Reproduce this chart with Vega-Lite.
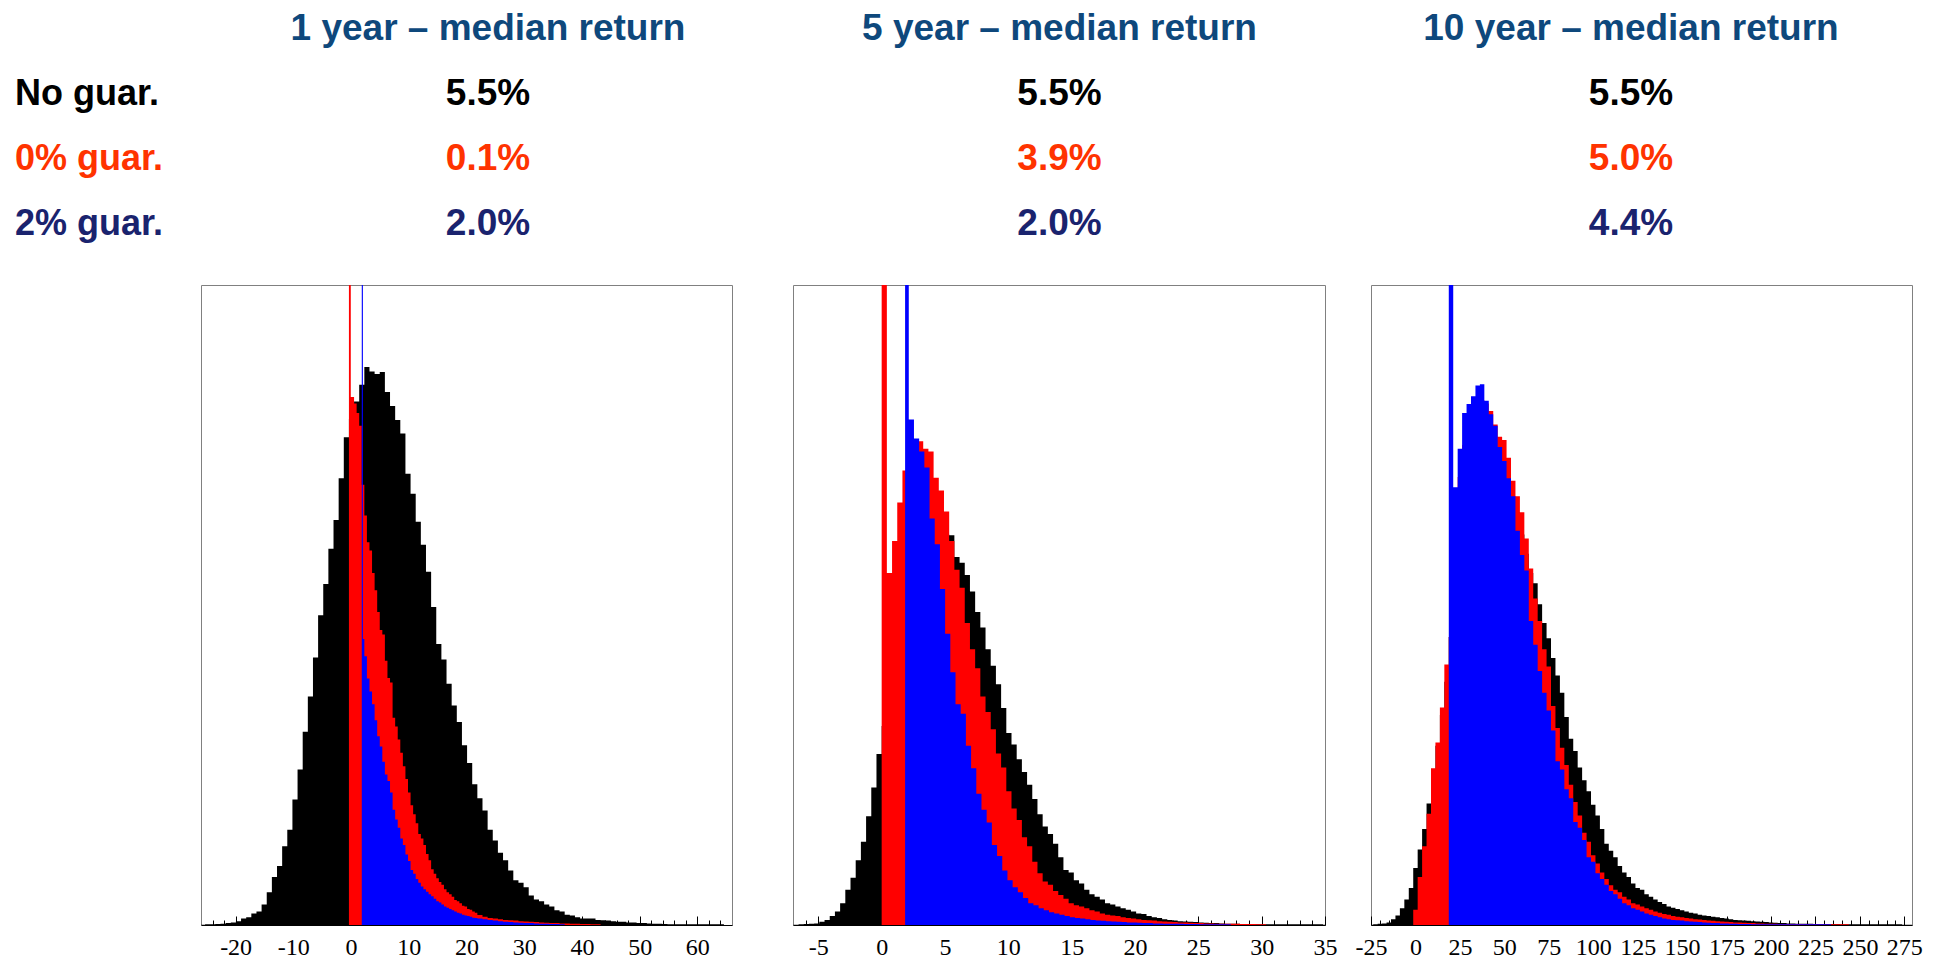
{
"$schema":"https://vega.github.io/schema/vega-lite/v6.json",
"padding":0,
"background":"white",
"spacing":24,
"config":{"view":{"stroke":"#808080","strokeWidth":1},"axis":{"grid":false,"domainColor":"#000000","tickColor":"#000000","labelFont":"Liberation Serif","labelFontSize":24,"labelColor":"#000000","labelFlush":false,"labelOverlap":false,"labelBound":false}},
"datasets":{
"t":[
{"r":"h","c":"1 year","t":"1 year – median return"},
{"r":"h","c":"5 year","t":"5 year – median return"},
{"r":"h","c":"10 year","t":"10 year – median return"},
{"r":"No guar.","c":"label","t":"No guar."},
{"r":"0% guar.","c":"label","t":"0% guar."},
{"r":"2% guar.","c":"label","t":"2% guar."},
{"r":"No guar.","c":"1 year","t":"5.5%"},
{"r":"No guar.","c":"5 year","t":"5.5%"},
{"r":"No guar.","c":"10 year","t":"5.5%"},
{"r":"0% guar.","c":"1 year","t":"0.1%"},
{"r":"0% guar.","c":"5 year","t":"3.9%"},
{"r":"0% guar.","c":"10 year","t":"5.0%"},
{"r":"2% guar.","c":"1 year","t":"2.0%"},
{"r":"2% guar.","c":"5 year","t":"2.0%"},
{"r":"2% guar.","c":"10 year","t":"4.4%"}
],
"h":[
{"p":1,"s":"b","x":-26.18,"v":0.05},{"p":1,"s":"b","x":-25.29,"v":0.1},{"p":1,"s":"b","x":-24.4,"v":0.1},{"p":1,"s":"b","x":-23.51,"v":0.15},{"p":1,"s":"b","x":-22.62,"v":0.2},{"p":1,"s":"b","x":-21.73,"v":0.3},{"p":1,"s":"b","x":-20.84,"v":0.4},{"p":1,"s":"b","x":-19.95,"v":0.6},{"p":1,"s":"b","x":-19.06,"v":1.0},{"p":1,"s":"b","x":-18.17,"v":1.2},{"p":1,"s":"b","x":-17.28,"v":1.8},{"p":1,"s":"b","x":-16.39,"v":2.1},{"p":1,"s":"b","x":-15.5,"v":3.2},{"p":1,"s":"b","x":-14.61,"v":5.1},{"p":1,"s":"b","x":-13.72,"v":7.5},{"p":1,"s":"b","x":-12.83,"v":9.2},{"p":1,"s":"b","x":-11.94,"v":12.3},{"p":1,"s":"b","x":-11.05,"v":14.9},{"p":1,"s":"b","x":-10.16,"v":19.6},{"p":1,"s":"b","x":-9.27,"v":24.3},{"p":1,"s":"b","x":-8.38,"v":30.2},{"p":1,"s":"b","x":-7.49,"v":35.7},{"p":1,"s":"b","x":-6.6,"v":41.8},{"p":1,"s":"b","x":-5.71,"v":48.4},{"p":1,"s":"b","x":-4.82,"v":53.3},{"p":1,"s":"b","x":-3.93,"v":58.8},{"p":1,"s":"b","x":-3.04,"v":63.3},{"p":1,"s":"b","x":-2.15,"v":69.8},{"p":1,"s":"b","x":-1.26,"v":76.2},{"p":1,"s":"b","x":-0.37,"v":79.1},{"p":1,"s":"b","x":0.52,"v":81.8},{"p":1,"s":"b","x":1.41,"v":84.4},{"p":1,"s":"b","x":2.3,"v":87.2},{"p":1,"s":"b","x":3.19,"v":86.5},{"p":1,"s":"b","x":4.08,"v":86.1},{"p":1,"s":"b","x":4.97,"v":86.4},{"p":1,"s":"b","x":5.86,"v":83.3},{"p":1,"s":"b","x":6.75,"v":81.1},{"p":1,"s":"b","x":7.64,"v":78.9},{"p":1,"s":"b","x":8.53,"v":76.8},{"p":1,"s":"b","x":9.42,"v":70.5},{"p":1,"s":"b","x":10.31,"v":67.4},{"p":1,"s":"b","x":11.2,"v":63.0},{"p":1,"s":"b","x":12.09,"v":59.4},{"p":1,"s":"b","x":12.98,"v":55.2},{"p":1,"s":"b","x":13.87,"v":49.7},{"p":1,"s":"b","x":14.76,"v":43.9},{"p":1,"s":"b","x":15.65,"v":41.5},{"p":1,"s":"b","x":16.54,"v":37.7},{"p":1,"s":"b","x":17.43,"v":34.3},{"p":1,"s":"b","x":18.32,"v":31.7},{"p":1,"s":"b","x":19.21,"v":28.1},{"p":1,"s":"b","x":20.1,"v":25.3},{"p":1,"s":"b","x":20.99,"v":22.0},{"p":1,"s":"b","x":21.88,"v":19.8},{"p":1,"s":"b","x":22.77,"v":17.9},{"p":1,"s":"b","x":23.66,"v":14.9},{"p":1,"s":"b","x":24.55,"v":13.2},{"p":1,"s":"b","x":25.44,"v":11.3},{"p":1,"s":"b","x":26.33,"v":10.1},{"p":1,"s":"b","x":27.22,"v":8.5},{"p":1,"s":"b","x":28.11,"v":7.0},{"p":1,"s":"b","x":29.0,"v":6.6},{"p":1,"s":"b","x":29.89,"v":5.9},{"p":1,"s":"b","x":30.78,"v":4.6},{"p":1,"s":"b","x":31.67,"v":4.0},{"p":1,"s":"b","x":32.56,"v":3.7},{"p":1,"s":"b","x":33.45,"v":3.2},{"p":1,"s":"b","x":34.34,"v":2.9},{"p":1,"s":"b","x":35.23,"v":2.3},{"p":1,"s":"b","x":36.12,"v":2.1},{"p":1,"s":"b","x":37.01,"v":1.6},{"p":1,"s":"b","x":37.9,"v":1.5},{"p":1,"s":"b","x":38.79,"v":1.2},{"p":1,"s":"b","x":39.68,"v":1.0},{"p":1,"s":"b","x":42.35,"v":0.8},{"p":1,"s":"b","x":43.24,"v":0.75},{"p":1,"s":"b","x":44.13,"v":0.7},{"p":1,"s":"b","x":45.02,"v":0.6},{"p":1,"s":"b","x":45.91,"v":0.5},{"p":1,"s":"b","x":47.69,"v":0.4},{"p":1,"s":"b","x":49.47,"v":0.3},{"p":1,"s":"b","x":51.25,"v":0.25},{"p":1,"s":"b","x":52.14,"v":0.2},{"p":1,"s":"b","x":53.92,"v":0.15},{"p":1,"s":"b","x":54.81,"v":0.1},{"p":1,"s":"b","x":64.6,"v":0},
{"p":1,"s":"r","x":-0.37,"v":150},{"p":1,"s":"r","x":-0.05,"v":82.5},{"p":1,"s":"r","x":0.52,"v":81.5},{"p":1,"s":"r","x":0.965,"v":80.0},{"p":1,"s":"r","x":1.41,"v":78.0},{"p":1,"s":"r","x":1.855,"v":68.8},{"p":1,"s":"r","x":2.3,"v":64.0},{"p":1,"s":"r","x":2.745,"v":59.8},{"p":1,"s":"r","x":3.19,"v":58.5},{"p":1,"s":"r","x":3.635,"v":55.0},{"p":1,"s":"r","x":4.08,"v":52.3},{"p":1,"s":"r","x":4.525,"v":48.9},{"p":1,"s":"r","x":4.97,"v":46.1},{"p":1,"s":"r","x":5.415,"v":45.4},{"p":1,"s":"r","x":5.86,"v":41.3},{"p":1,"s":"r","x":6.305,"v":38.6},{"p":1,"s":"r","x":6.75,"v":37.9},{"p":1,"s":"r","x":7.195,"v":32.4},{"p":1,"s":"r","x":7.64,"v":31.0},{"p":1,"s":"r","x":8.085,"v":29.0},{"p":1,"s":"r","x":8.53,"v":26.9},{"p":1,"s":"r","x":8.975,"v":24.8},{"p":1,"s":"r","x":9.42,"v":22.8},{"p":1,"s":"r","x":9.865,"v":20.7},{"p":1,"s":"r","x":10.31,"v":18.7},{"p":1,"s":"r","x":10.755,"v":17.3},{"p":1,"s":"r","x":11.2,"v":15.9},{"p":1,"s":"r","x":11.645,"v":14.2},{"p":1,"s":"r","x":12.09,"v":13.5},{"p":1,"s":"r","x":12.535,"v":12.5},{"p":1,"s":"r","x":12.98,"v":11.1},{"p":1,"s":"r","x":13.425,"v":10.1},{"p":1,"s":"r","x":13.87,"v":8.7},{"p":1,"s":"r","x":14.315,"v":8.0},{"p":1,"s":"r","x":14.76,"v":7.3},{"p":1,"s":"r","x":15.205,"v":6.7},{"p":1,"s":"r","x":15.65,"v":6.3},{"p":1,"s":"r","x":16.095,"v":5.6},{"p":1,"s":"r","x":16.54,"v":5.1},{"p":1,"s":"r","x":16.985,"v":4.8},{"p":1,"s":"r","x":17.43,"v":4.4},{"p":1,"s":"r","x":17.875,"v":3.9},{"p":1,"s":"r","x":18.32,"v":3.7},{"p":1,"s":"r","x":18.765,"v":3.4},{"p":1,"s":"r","x":19.21,"v":3.0},{"p":1,"s":"r","x":19.655,"v":2.9},{"p":1,"s":"r","x":20.1,"v":2.5},{"p":1,"s":"r","x":20.545,"v":2.4},{"p":1,"s":"r","x":20.99,"v":2.1},{"p":1,"s":"r","x":21.435,"v":1.9},{"p":1,"s":"r","x":21.88,"v":1.55},{"p":1,"s":"r","x":22.77,"v":1.3},{"p":1,"s":"r","x":23.66,"v":1.1},{"p":1,"s":"r","x":24.55,"v":1.0},{"p":1,"s":"r","x":25.44,"v":0.9},{"p":1,"s":"r","x":26.33,"v":0.8},{"p":1,"s":"r","x":27.22,"v":0.75},{"p":1,"s":"r","x":28.11,"v":0.7},{"p":1,"s":"r","x":29.0,"v":0.6},{"p":1,"s":"r","x":29.89,"v":0.55},{"p":1,"s":"r","x":30.78,"v":0.5},{"p":1,"s":"r","x":31.67,"v":0.45},{"p":1,"s":"r","x":32.56,"v":0.4},{"p":1,"s":"r","x":33.45,"v":0.35},{"p":1,"s":"r","x":34.34,"v":0.3},{"p":1,"s":"r","x":36.12,"v":0.25},{"p":1,"s":"r","x":37.9,"v":0.2},{"p":1,"s":"r","x":39.68,"v":0.15},{"p":1,"s":"r","x":41.46,"v":0.1},{"p":1,"s":"r","x":43.24,"v":0},
{"p":1,"s":"u","x":1.855,"v":150},{"p":1,"s":"u","x":2.05,"v":44.7},{"p":1,"s":"u","x":2.3,"v":42.0},{"p":1,"s":"u","x":2.745,"v":38.5},{"p":1,"s":"u","x":3.19,"v":36.5},{"p":1,"s":"u","x":3.635,"v":34.5},{"p":1,"s":"u","x":4.08,"v":32.0},{"p":1,"s":"u","x":4.525,"v":29.5},{"p":1,"s":"u","x":4.97,"v":27.9},{"p":1,"s":"u","x":5.415,"v":25.5},{"p":1,"s":"u","x":5.86,"v":23.5},{"p":1,"s":"u","x":6.305,"v":22.5},{"p":1,"s":"u","x":6.75,"v":20.7},{"p":1,"s":"u","x":7.195,"v":18.0},{"p":1,"s":"u","x":7.64,"v":16.5},{"p":1,"s":"u","x":8.085,"v":15.2},{"p":1,"s":"u","x":8.53,"v":13.5},{"p":1,"s":"u","x":8.975,"v":12.5},{"p":1,"s":"u","x":9.42,"v":11.0},{"p":1,"s":"u","x":9.865,"v":10.0},{"p":1,"s":"u","x":10.31,"v":8.6},{"p":1,"s":"u","x":10.755,"v":8.0},{"p":1,"s":"u","x":11.2,"v":7.2},{"p":1,"s":"u","x":11.645,"v":6.6},{"p":1,"s":"u","x":12.09,"v":6.0},{"p":1,"s":"u","x":12.535,"v":5.6},{"p":1,"s":"u","x":12.98,"v":5.2},{"p":1,"s":"u","x":13.425,"v":4.8},{"p":1,"s":"u","x":13.87,"v":4.5},{"p":1,"s":"u","x":14.315,"v":4.1},{"p":1,"s":"u","x":14.76,"v":3.7},{"p":1,"s":"u","x":15.205,"v":3.5},{"p":1,"s":"u","x":15.65,"v":3.2},{"p":1,"s":"u","x":16.095,"v":2.9},{"p":1,"s":"u","x":16.54,"v":2.7},{"p":1,"s":"u","x":16.985,"v":2.5},{"p":1,"s":"u","x":17.43,"v":2.3},{"p":1,"s":"u","x":17.875,"v":2.1},{"p":1,"s":"u","x":18.32,"v":1.9},{"p":1,"s":"u","x":18.765,"v":1.8},{"p":1,"s":"u","x":19.21,"v":1.6},{"p":1,"s":"u","x":19.655,"v":1.5},{"p":1,"s":"u","x":20.1,"v":1.4},{"p":1,"s":"u","x":20.545,"v":1.3},{"p":1,"s":"u","x":20.99,"v":1.15},{"p":1,"s":"u","x":21.435,"v":1.1},{"p":1,"s":"u","x":21.88,"v":1.0},{"p":1,"s":"u","x":22.77,"v":0.9},{"p":1,"s":"u","x":23.66,"v":0.8},{"p":1,"s":"u","x":24.55,"v":0.7},{"p":1,"s":"u","x":25.44,"v":0.6},{"p":1,"s":"u","x":26.33,"v":0.5},{"p":1,"s":"u","x":27.22,"v":0.45},{"p":1,"s":"u","x":28.11,"v":0.4},{"p":1,"s":"u","x":29.0,"v":0.35},{"p":1,"s":"u","x":29.89,"v":0.3},{"p":1,"s":"u","x":31.67,"v":0.25},{"p":1,"s":"u","x":32.56,"v":0.2},{"p":1,"s":"u","x":34.34,"v":0.15},{"p":1,"s":"u","x":36.12,"v":0.1},{"p":1,"s":"u","x":37.01,"v":0},
{"p":2,"s":"b","x":-6.97,"v":0.05},{"p":2,"s":"b","x":-6.56,"v":0.1},{"p":2,"s":"b","x":-6.15,"v":0.15},{"p":2,"s":"b","x":-5.74,"v":0.2},{"p":2,"s":"b","x":-5.33,"v":0.25},{"p":2,"s":"b","x":-4.92,"v":0.5},{"p":2,"s":"b","x":-4.51,"v":0.8},{"p":2,"s":"b","x":-4.1,"v":1.4},{"p":2,"s":"b","x":-3.69,"v":2.1},{"p":2,"s":"b","x":-3.28,"v":3.4},{"p":2,"s":"b","x":-2.87,"v":5.5},{"p":2,"s":"b","x":-2.46,"v":7.4},{"p":2,"s":"b","x":-2.05,"v":10.1},{"p":2,"s":"b","x":-1.64,"v":13.0},{"p":2,"s":"b","x":-1.23,"v":17.0},{"p":2,"s":"b","x":-0.82,"v":21.5},{"p":2,"s":"b","x":-0.41,"v":26.7},{"p":2,"s":"b","x":0,"v":31.1},{"p":2,"s":"b","x":0.41,"v":35},{"p":2,"s":"b","x":0.82,"v":39},{"p":2,"s":"b","x":1.23,"v":43},{"p":2,"s":"b","x":1.64,"v":47},{"p":2,"s":"b","x":2.05,"v":50},{"p":2,"s":"b","x":2.46,"v":53},{"p":2,"s":"b","x":2.87,"v":55},{"p":2,"s":"b","x":3.28,"v":57},{"p":2,"s":"b","x":3.69,"v":59},{"p":2,"s":"b","x":4.1,"v":60},{"p":2,"s":"b","x":4.51,"v":61},{"p":2,"s":"b","x":4.92,"v":61},{"p":2,"s":"b","x":5.33,"v":60.9},{"p":2,"s":"b","x":5.74,"v":57.5},{"p":2,"s":"b","x":6.15,"v":56.6},{"p":2,"s":"b","x":6.56,"v":54.7},{"p":2,"s":"b","x":6.97,"v":52.1},{"p":2,"s":"b","x":7.38,"v":48.9},{"p":2,"s":"b","x":7.79,"v":46.5},{"p":2,"s":"b","x":8.2,"v":43.1},{"p":2,"s":"b","x":8.61,"v":40.5},{"p":2,"s":"b","x":9.02,"v":37.6},{"p":2,"s":"b","x":9.43,"v":33.9},{"p":2,"s":"b","x":9.84,"v":30.0},{"p":2,"s":"b","x":10.25,"v":28.2},{"p":2,"s":"b","x":10.66,"v":25.9},{"p":2,"s":"b","x":11.07,"v":23.9},{"p":2,"s":"b","x":11.48,"v":21.9},{"p":2,"s":"b","x":11.89,"v":19.7},{"p":2,"s":"b","x":12.3,"v":17.3},{"p":2,"s":"b","x":12.71,"v":15.4},{"p":2,"s":"b","x":13.12,"v":14.2},{"p":2,"s":"b","x":13.53,"v":12.7},{"p":2,"s":"b","x":13.94,"v":10.6},{"p":2,"s":"b","x":14.35,"v":8.6},{"p":2,"s":"b","x":14.76,"v":8.2},{"p":2,"s":"b","x":15.17,"v":7.0},{"p":2,"s":"b","x":15.58,"v":6.5},{"p":2,"s":"b","x":15.99,"v":5.5},{"p":2,"s":"b","x":16.4,"v":4.8},{"p":2,"s":"b","x":16.81,"v":4.4},{"p":2,"s":"b","x":17.22,"v":4.0},{"p":2,"s":"b","x":17.63,"v":3.4},{"p":2,"s":"b","x":18.04,"v":3.2},{"p":2,"s":"b","x":18.45,"v":2.9},{"p":2,"s":"b","x":18.86,"v":2.6},{"p":2,"s":"b","x":19.27,"v":2.4},{"p":2,"s":"b","x":19.68,"v":2.1},{"p":2,"s":"b","x":20.09,"v":1.8},{"p":2,"s":"b","x":20.5,"v":1.7},{"p":2,"s":"b","x":20.91,"v":1.4},{"p":2,"s":"b","x":21.32,"v":1.2},{"p":2,"s":"b","x":21.73,"v":1.1},{"p":2,"s":"b","x":22.14,"v":0.9},{"p":2,"s":"b","x":22.55,"v":0.8},{"p":2,"s":"b","x":22.96,"v":0.7},{"p":2,"s":"b","x":23.37,"v":0.6},{"p":2,"s":"b","x":23.78,"v":0.55},{"p":2,"s":"b","x":24.19,"v":0.5},{"p":2,"s":"b","x":24.6,"v":0.45},{"p":2,"s":"b","x":25.01,"v":0.4},{"p":2,"s":"b","x":25.42,"v":0.35},{"p":2,"s":"b","x":25.83,"v":0.3},{"p":2,"s":"b","x":26.65,"v":0.25},{"p":2,"s":"b","x":27.06,"v":0.2},{"p":2,"s":"b","x":28.29,"v":0.15},{"p":2,"s":"b","x":29.11,"v":0.1},{"p":2,"s":"b","x":34.85,"v":0.05},{"p":2,"s":"b","x":35.26,"v":0},
{"p":2,"s":"r","x":0,"v":150},{"p":2,"s":"r","x":0.41,"v":55},{"p":2,"s":"r","x":0.82,"v":60},{"p":2,"s":"r","x":1.23,"v":66},{"p":2,"s":"r","x":1.64,"v":71},{"p":2,"s":"r","x":2.05,"v":74},{"p":2,"s":"r","x":2.46,"v":75.5},{"p":2,"s":"r","x":2.87,"v":75.6},{"p":2,"s":"r","x":3.28,"v":74.4},{"p":2,"s":"r","x":3.69,"v":74.0},{"p":2,"s":"r","x":4.1,"v":69.9},{"p":2,"s":"r","x":4.51,"v":67.9},{"p":2,"s":"r","x":4.92,"v":64.6},{"p":2,"s":"r","x":5.33,"v":60.0},{"p":2,"s":"r","x":5.74,"v":55.5},{"p":2,"s":"r","x":6.15,"v":52.7},{"p":2,"s":"r","x":6.56,"v":47.2},{"p":2,"s":"r","x":6.97,"v":43.1},{"p":2,"s":"r","x":7.38,"v":40.1},{"p":2,"s":"r","x":7.79,"v":35.7},{"p":2,"s":"r","x":8.2,"v":33.3},{"p":2,"s":"r","x":8.61,"v":30.6},{"p":2,"s":"r","x":9.02,"v":26.8},{"p":2,"s":"r","x":9.43,"v":24.6},{"p":2,"s":"r","x":9.84,"v":20.9},{"p":2,"s":"r","x":10.25,"v":18.2},{"p":2,"s":"r","x":10.66,"v":16.4},{"p":2,"s":"r","x":11.07,"v":13.7},{"p":2,"s":"r","x":11.48,"v":12.3},{"p":2,"s":"r","x":11.89,"v":9.9},{"p":2,"s":"r","x":12.3,"v":8.1},{"p":2,"s":"r","x":12.71,"v":6.8},{"p":2,"s":"r","x":13.12,"v":6.3},{"p":2,"s":"r","x":13.53,"v":5.3},{"p":2,"s":"r","x":13.94,"v":4.7},{"p":2,"s":"r","x":14.35,"v":4.1},{"p":2,"s":"r","x":14.76,"v":3.4},{"p":2,"s":"r","x":15.17,"v":3.1},{"p":2,"s":"r","x":15.58,"v":2.9},{"p":2,"s":"r","x":15.99,"v":2.6},{"p":2,"s":"r","x":16.4,"v":2.3},{"p":2,"s":"r","x":16.81,"v":2.1},{"p":2,"s":"r","x":17.22,"v":1.8},{"p":2,"s":"r","x":17.63,"v":1.6},{"p":2,"s":"r","x":18.04,"v":1.5},{"p":2,"s":"r","x":18.45,"v":1.4},{"p":2,"s":"r","x":18.86,"v":1.2},{"p":2,"s":"r","x":19.27,"v":1.1},{"p":2,"s":"r","x":19.68,"v":1.0},{"p":2,"s":"r","x":20.09,"v":0.9},{"p":2,"s":"r","x":20.5,"v":0.8},{"p":2,"s":"r","x":20.91,"v":0.75},{"p":2,"s":"r","x":21.32,"v":0.7},{"p":2,"s":"r","x":21.73,"v":0.6},{"p":2,"s":"r","x":22.14,"v":0.55},{"p":2,"s":"r","x":22.55,"v":0.5},{"p":2,"s":"r","x":22.96,"v":0.45},{"p":2,"s":"r","x":23.37,"v":0.4},{"p":2,"s":"r","x":24.19,"v":0.35},{"p":2,"s":"r","x":24.6,"v":0.3},{"p":2,"s":"r","x":25.42,"v":0.25},{"p":2,"s":"r","x":26.24,"v":0.2},{"p":2,"s":"r","x":28.29,"v":0.15},{"p":2,"s":"r","x":29.52,"v":0.1},{"p":2,"s":"r","x":30.34,"v":0},
{"p":2,"s":"u","x":1.85,"v":150},{"p":2,"s":"u","x":2.14,"v":79.0},{"p":2,"s":"u","x":2.55,"v":76.0},{"p":2,"s":"u","x":2.96,"v":74.0},{"p":2,"s":"u","x":3.37,"v":71.5},{"p":2,"s":"u","x":3.78,"v":63.5},{"p":2,"s":"u","x":4.19,"v":59.5},{"p":2,"s":"u","x":4.6,"v":52.5},{"p":2,"s":"u","x":5.01,"v":45.5},{"p":2,"s":"u","x":5.42,"v":39.5},{"p":2,"s":"u","x":5.83,"v":34.5},{"p":2,"s":"u","x":6.24,"v":33.0},{"p":2,"s":"u","x":6.65,"v":28.0},{"p":2,"s":"u","x":7.06,"v":24.5},{"p":2,"s":"u","x":7.47,"v":20.5},{"p":2,"s":"u","x":7.88,"v":18.0},{"p":2,"s":"u","x":8.29,"v":16.0},{"p":2,"s":"u","x":8.7,"v":12.5},{"p":2,"s":"u","x":9.11,"v":10.8},{"p":2,"s":"u","x":9.52,"v":8.5},{"p":2,"s":"u","x":9.93,"v":7.0},{"p":2,"s":"u","x":10.34,"v":5.9},{"p":2,"s":"u","x":10.75,"v":5.1},{"p":2,"s":"u","x":11.16,"v":4.2},{"p":2,"s":"u","x":11.57,"v":3.4},{"p":2,"s":"u","x":11.98,"v":3.1},{"p":2,"s":"u","x":12.39,"v":2.6},{"p":2,"s":"u","x":12.8,"v":2.3},{"p":2,"s":"u","x":13.21,"v":2.0},{"p":2,"s":"u","x":13.62,"v":1.8},{"p":2,"s":"u","x":14.03,"v":1.6},{"p":2,"s":"u","x":14.44,"v":1.4},{"p":2,"s":"u","x":14.85,"v":1.2},{"p":2,"s":"u","x":15.26,"v":1.1},{"p":2,"s":"u","x":15.67,"v":1.0},{"p":2,"s":"u","x":16.08,"v":0.9},{"p":2,"s":"u","x":16.49,"v":0.8},{"p":2,"s":"u","x":16.9,"v":0.7},{"p":2,"s":"u","x":17.31,"v":0.65},{"p":2,"s":"u","x":17.72,"v":0.6},{"p":2,"s":"u","x":18.13,"v":0.55},{"p":2,"s":"u","x":18.54,"v":0.5},{"p":2,"s":"u","x":18.95,"v":0.45},{"p":2,"s":"u","x":19.36,"v":0.4},{"p":2,"s":"u","x":20.18,"v":0.35},{"p":2,"s":"u","x":20.59,"v":0.3},{"p":2,"s":"u","x":21.41,"v":0.25},{"p":2,"s":"u","x":22.23,"v":0.2},{"p":2,"s":"u","x":23.87,"v":0.15},{"p":2,"s":"u","x":25.1,"v":0.1},{"p":2,"s":"u","x":27.56,"v":0},
{"p":3,"s":"b","x":-26.25,"v":0.05},{"p":3,"s":"b","x":-23.75,"v":0.1},{"p":3,"s":"b","x":-21.25,"v":0.2},{"p":3,"s":"b","x":-18.75,"v":0.25},{"p":3,"s":"b","x":-16.25,"v":0.4},{"p":3,"s":"b","x":-13.75,"v":0.9},{"p":3,"s":"b","x":-11.25,"v":1.5},{"p":3,"s":"b","x":-8.75,"v":2.6},{"p":3,"s":"b","x":-6.25,"v":4.0},{"p":3,"s":"b","x":-3.75,"v":5.8},{"p":3,"s":"b","x":-1.25,"v":8.9},{"p":3,"s":"b","x":1.25,"v":11.8},{"p":3,"s":"b","x":3.75,"v":15.0},{"p":3,"s":"b","x":6.25,"v":19.0},{"p":3,"s":"b","x":8.75,"v":23.5},{"p":3,"s":"b","x":11.25,"v":28.0},{"p":3,"s":"b","x":13.75,"v":32.8},{"p":3,"s":"b","x":16.25,"v":38},{"p":3,"s":"b","x":18.75,"v":45},{"p":3,"s":"b","x":21.25,"v":58},{"p":3,"s":"b","x":23.75,"v":65},{"p":3,"s":"b","x":26.25,"v":70},{"p":3,"s":"b","x":28.75,"v":73},{"p":3,"s":"b","x":31.25,"v":75},{"p":3,"s":"b","x":33.75,"v":76},{"p":3,"s":"b","x":36.25,"v":76},{"p":3,"s":"b","x":38.75,"v":76},{"p":3,"s":"b","x":41.25,"v":75},{"p":3,"s":"b","x":43.75,"v":74},{"p":3,"s":"b","x":46.25,"v":72},{"p":3,"s":"b","x":48.75,"v":70},{"p":3,"s":"b","x":51.25,"v":68},{"p":3,"s":"b","x":53.75,"v":65},{"p":3,"s":"b","x":56.25,"v":63},{"p":3,"s":"b","x":58.75,"v":61},{"p":3,"s":"b","x":61.25,"v":58},{"p":3,"s":"b","x":63.75,"v":55},{"p":3,"s":"b","x":66.25,"v":53.4},{"p":3,"s":"b","x":68.75,"v":50.1},{"p":3,"s":"b","x":71.25,"v":47.2},{"p":3,"s":"b","x":73.75,"v":44.8},{"p":3,"s":"b","x":76.25,"v":41.7},{"p":3,"s":"b","x":78.75,"v":39.0},{"p":3,"s":"b","x":81.25,"v":36.3},{"p":3,"s":"b","x":83.75,"v":32.5},{"p":3,"s":"b","x":86.25,"v":29.1},{"p":3,"s":"b","x":88.75,"v":27.2},{"p":3,"s":"b","x":91.25,"v":24.6},{"p":3,"s":"b","x":93.75,"v":22.6},{"p":3,"s":"b","x":96.25,"v":20.9},{"p":3,"s":"b","x":98.75,"v":18.8},{"p":3,"s":"b","x":101.25,"v":17.1},{"p":3,"s":"b","x":103.75,"v":15.0},{"p":3,"s":"b","x":106.25,"v":12.7},{"p":3,"s":"b","x":108.75,"v":11.6},{"p":3,"s":"b","x":111.25,"v":10.6},{"p":3,"s":"b","x":113.75,"v":9.2},{"p":3,"s":"b","x":116.25,"v":8.2},{"p":3,"s":"b","x":118.75,"v":7.5},{"p":3,"s":"b","x":121.25,"v":6.5},{"p":3,"s":"b","x":123.75,"v":5.8},{"p":3,"s":"b","x":126.25,"v":5.5},{"p":3,"s":"b","x":128.75,"v":4.8},{"p":3,"s":"b","x":131.25,"v":4.4},{"p":3,"s":"b","x":133.75,"v":4.0},{"p":3,"s":"b","x":136.25,"v":3.6},{"p":3,"s":"b","x":138.75,"v":3.3},{"p":3,"s":"b","x":141.25,"v":2.9},{"p":3,"s":"b","x":143.75,"v":2.7},{"p":3,"s":"b","x":146.25,"v":2.5},{"p":3,"s":"b","x":148.75,"v":2.3},{"p":3,"s":"b","x":151.25,"v":2.1},{"p":3,"s":"b","x":153.75,"v":1.9},{"p":3,"s":"b","x":156.25,"v":1.8},{"p":3,"s":"b","x":158.75,"v":1.6},{"p":3,"s":"b","x":161.25,"v":1.5},{"p":3,"s":"b","x":163.75,"v":1.4},{"p":3,"s":"b","x":166.25,"v":1.3},{"p":3,"s":"b","x":168.75,"v":1.2},{"p":3,"s":"b","x":171.25,"v":1.1},{"p":3,"s":"b","x":173.75,"v":1.0},{"p":3,"s":"b","x":176.25,"v":0.9},{"p":3,"s":"b","x":178.75,"v":0.8},{"p":3,"s":"b","x":181.25,"v":0.75},{"p":3,"s":"b","x":183.75,"v":0.7},{"p":3,"s":"b","x":186.25,"v":0.65},{"p":3,"s":"b","x":188.75,"v":0.6},{"p":3,"s":"b","x":191.25,"v":0.55},{"p":3,"s":"b","x":193.75,"v":0.5},{"p":3,"s":"b","x":196.25,"v":0.45},{"p":3,"s":"b","x":198.75,"v":0.4},{"p":3,"s":"b","x":201.25,"v":0.35},{"p":3,"s":"b","x":203.75,"v":0.3},{"p":3,"s":"b","x":208.75,"v":0.25},{"p":3,"s":"b","x":213.75,"v":0.2},{"p":3,"s":"b","x":223.75,"v":0.15},{"p":3,"s":"b","x":238.75,"v":0.1},{"p":3,"s":"b","x":273.75,"v":0.05},{"p":3,"s":"b","x":281.25,"v":0},
{"p":3,"s":"r","x":-1.25,"v":2.4},{"p":3,"s":"r","x":1.25,"v":7.5},{"p":3,"s":"r","x":3.75,"v":12.3},{"p":3,"s":"r","x":6.25,"v":17.4},{"p":3,"s":"r","x":8.75,"v":24.5},{"p":3,"s":"r","x":11.25,"v":28.5},{"p":3,"s":"r","x":13.75,"v":34},{"p":3,"s":"r","x":16.25,"v":40.7},{"p":3,"s":"r","x":18.75,"v":45},{"p":3,"s":"r","x":21.25,"v":62},{"p":3,"s":"r","x":23.75,"v":70},{"p":3,"s":"r","x":26.25,"v":75},{"p":3,"s":"r","x":28.75,"v":78},{"p":3,"s":"r","x":31.25,"v":80},{"p":3,"s":"r","x":33.75,"v":82},{"p":3,"s":"r","x":36.25,"v":82},{"p":3,"s":"r","x":38.75,"v":81.5},{"p":3,"s":"r","x":41.25,"v":80.3},{"p":3,"s":"r","x":43.75,"v":78.2},{"p":3,"s":"r","x":46.25,"v":76.3},{"p":3,"s":"r","x":48.75,"v":75.8},{"p":3,"s":"r","x":51.25,"v":73.0},{"p":3,"s":"r","x":53.75,"v":69.4},{"p":3,"s":"r","x":56.25,"v":67.0},{"p":3,"s":"r","x":58.75,"v":64.5},{"p":3,"s":"r","x":61.25,"v":60.4},{"p":3,"s":"r","x":63.75,"v":55.7},{"p":3,"s":"r","x":66.25,"v":51.0},{"p":3,"s":"r","x":68.75,"v":47.5},{"p":3,"s":"r","x":71.25,"v":43.1},{"p":3,"s":"r","x":73.75,"v":40.4},{"p":3,"s":"r","x":76.25,"v":34.2},{"p":3,"s":"r","x":78.75,"v":30.8},{"p":3,"s":"r","x":81.25,"v":27.7},{"p":3,"s":"r","x":83.75,"v":25.0},{"p":3,"s":"r","x":86.25,"v":21.9},{"p":3,"s":"r","x":88.75,"v":19.2},{"p":3,"s":"r","x":91.25,"v":17.1},{"p":3,"s":"r","x":93.75,"v":14.4},{"p":3,"s":"r","x":96.25,"v":13.0},{"p":3,"s":"r","x":98.75,"v":10.9},{"p":3,"s":"r","x":101.25,"v":9.6},{"p":3,"s":"r","x":103.75,"v":8.2},{"p":3,"s":"r","x":106.25,"v":7.2},{"p":3,"s":"r","x":108.75,"v":6.2},{"p":3,"s":"r","x":111.25,"v":5.5},{"p":3,"s":"r","x":113.75,"v":5.1},{"p":3,"s":"r","x":116.25,"v":4.4},{"p":3,"s":"r","x":118.75,"v":4.0},{"p":3,"s":"r","x":121.25,"v":3.4},{"p":3,"s":"r","x":123.75,"v":3.2},{"p":3,"s":"r","x":126.25,"v":2.9},{"p":3,"s":"r","x":128.75,"v":2.6},{"p":3,"s":"r","x":131.25,"v":2.4},{"p":3,"s":"r","x":133.75,"v":2.1},{"p":3,"s":"r","x":136.25,"v":1.9},{"p":3,"s":"r","x":138.75,"v":1.7},{"p":3,"s":"r","x":141.25,"v":1.6},{"p":3,"s":"r","x":143.75,"v":1.4},{"p":3,"s":"r","x":146.25,"v":1.3},{"p":3,"s":"r","x":148.75,"v":1.2},{"p":3,"s":"r","x":151.25,"v":1.1},{"p":3,"s":"r","x":153.75,"v":1.0},{"p":3,"s":"r","x":156.25,"v":0.9},{"p":3,"s":"r","x":158.75,"v":0.85},{"p":3,"s":"r","x":161.25,"v":0.8},{"p":3,"s":"r","x":163.75,"v":0.7},{"p":3,"s":"r","x":166.25,"v":0.65},{"p":3,"s":"r","x":168.75,"v":0.6},{"p":3,"s":"r","x":171.25,"v":0.55},{"p":3,"s":"r","x":173.75,"v":0.5},{"p":3,"s":"r","x":176.25,"v":0.45},{"p":3,"s":"r","x":178.75,"v":0.4},{"p":3,"s":"r","x":183.75,"v":0.35},{"p":3,"s":"r","x":186.25,"v":0.3},{"p":3,"s":"r","x":191.25,"v":0.25},{"p":3,"s":"r","x":196.25,"v":0.2},{"p":3,"s":"r","x":203.75,"v":0.15},{"p":3,"s":"r","x":218.75,"v":0.1},{"p":3,"s":"r","x":243.75,"v":0},
{"p":3,"s":"u","x":18.75,"v":150},{"p":3,"s":"u","x":21.25,"v":68.4},{"p":3,"s":"u","x":23.75,"v":74.4},{"p":3,"s":"u","x":26.25,"v":80.0},{"p":3,"s":"u","x":28.75,"v":81.4},{"p":3,"s":"u","x":31.25,"v":82.6},{"p":3,"s":"u","x":33.75,"v":84.3},{"p":3,"s":"u","x":36.25,"v":84.5},{"p":3,"s":"u","x":38.75,"v":81.9},{"p":3,"s":"u","x":41.25,"v":79.8},{"p":3,"s":"u","x":43.75,"v":78.0},{"p":3,"s":"u","x":46.25,"v":74.7},{"p":3,"s":"u","x":48.75,"v":72.5},{"p":3,"s":"u","x":51.25,"v":69.8},{"p":3,"s":"u","x":53.75,"v":67.0},{"p":3,"s":"u","x":56.25,"v":61.6},{"p":3,"s":"u","x":58.75,"v":57.8},{"p":3,"s":"u","x":61.25,"v":55.4},{"p":3,"s":"u","x":63.75,"v":47.5},{"p":3,"s":"u","x":66.25,"v":43.8},{"p":3,"s":"u","x":68.75,"v":39.7},{"p":3,"s":"u","x":71.25,"v":36.3},{"p":3,"s":"u","x":73.75,"v":33.5},{"p":3,"s":"u","x":76.25,"v":30.4},{"p":3,"s":"u","x":78.75,"v":25.6},{"p":3,"s":"u","x":81.25,"v":24.3},{"p":3,"s":"u","x":83.75,"v":21.2},{"p":3,"s":"u","x":86.25,"v":19.8},{"p":3,"s":"u","x":88.75,"v":16.1},{"p":3,"s":"u","x":91.25,"v":15.2},{"p":3,"s":"u","x":93.75,"v":13.3},{"p":3,"s":"u","x":96.25,"v":10.6},{"p":3,"s":"u","x":98.75,"v":9.9},{"p":3,"s":"u","x":101.25,"v":8.1},{"p":3,"s":"u","x":103.75,"v":7.2},{"p":3,"s":"u","x":106.25,"v":6.3},{"p":3,"s":"u","x":108.75,"v":5.3},{"p":3,"s":"u","x":111.25,"v":4.8},{"p":3,"s":"u","x":113.75,"v":4.1},{"p":3,"s":"u","x":116.25,"v":3.4},{"p":3,"s":"u","x":118.75,"v":3.1},{"p":3,"s":"u","x":121.25,"v":2.6},{"p":3,"s":"u","x":123.75,"v":2.4},{"p":3,"s":"u","x":126.25,"v":2.1},{"p":3,"s":"u","x":128.75,"v":1.8},{"p":3,"s":"u","x":131.25,"v":1.6},{"p":3,"s":"u","x":133.75,"v":1.4},{"p":3,"s":"u","x":136.25,"v":1.2},{"p":3,"s":"u","x":138.75,"v":1.0},{"p":3,"s":"u","x":141.25,"v":0.9},{"p":3,"s":"u","x":143.75,"v":0.8},{"p":3,"s":"u","x":146.25,"v":0.75},{"p":3,"s":"u","x":148.75,"v":0.7},{"p":3,"s":"u","x":151.25,"v":0.6},{"p":3,"s":"u","x":153.75,"v":0.55},{"p":3,"s":"u","x":156.25,"v":0.5},{"p":3,"s":"u","x":158.75,"v":0.45},{"p":3,"s":"u","x":161.25,"v":0.4},{"p":3,"s":"u","x":163.75,"v":0.35},{"p":3,"s":"u","x":166.25,"v":0.3},{"p":3,"s":"u","x":171.25,"v":0.25},{"p":3,"s":"u","x":176.25,"v":0.2},{"p":3,"s":"u","x":181.25,"v":0.15},{"p":3,"s":"u","x":188.75,"v":0.1},{"p":3,"s":"u","x":233.75,"v":0}
]},
"vconcat":[
{"width":1934,"height":260,"view":{"stroke":null},"data":{"name":"t"},
 "resolve":{"scale":{"x":"independent"}},
 "layer":[
  {"transform":[{"filter":"datum.c!='label'"}],
   "mark":{"type":"text","font":"Liberation Sans","fontWeight":"bold","fontSize":37,"align":"center","baseline":"alphabetic"},
   "encoding":{
    "x":{"field":"c","type":"nominal","scale":{"type":"point","domain":["1 year","5 year","10 year"],"range":[488,1631],"padding":0},"axis":null},
    "y":{"field":"r","type":"nominal","scale":{"type":"point","domain":["h","No guar.","0% guar.","2% guar."],"range":[40,235],"padding":0},"axis":null},
    "text":{"field":"t"},
    "color":{"field":"r","type":"nominal","scale":{"domain":["h","No guar.","0% guar.","2% guar."],"range":["#0E487C","#000000","#FF3300","#1A236E"]},"legend":null}}},
  {"transform":[{"filter":"datum.c=='label'"}],
   "mark":{"type":"text","font":"Liberation Sans","fontWeight":"bold","fontSize":36,"align":"left","baseline":"alphabetic"},
   "encoding":{
    "x":{"field":"c","type":"nominal","scale":{"type":"point","domain":["label"],"range":[15,15],"padding":0},"axis":null},
    "y":{"field":"r","type":"nominal","scale":{"type":"point","domain":["h","No guar.","0% guar.","2% guar."],"range":[40,235],"padding":0},"axis":null},
    "text":{"field":"t"},
    "color":{"field":"r","type":"nominal","scale":{"domain":["h","No guar.","0% guar.","2% guar."],"range":["#0E487C","#000000","#FF3300","#1A236E"]},"legend":null}}}
 ]},
{"spacing":0,"hconcat":[
 {"width":200,"height":1,"view":{"stroke":null},"data":{"values":[]},"mark":"point"},
 {"spacing":59,"hconcat":[
 {"width":531,"height":640,"data":{"name":"h"},"resolve":{"axis":{"x":"independent"}},
  "layer":[
   {"transform":[{"filter":"datum.p==1&&datum.s=='b'"}],"mark":{"type":"area","interpolate":"step-after","color":"#000000","clip":true},
    "encoding":{"x":{"field":"x","type":"quantitative","scale":{"domain":[-26,66],"nice":false,"zero":false},"axis":{"title":null,"orient":"bottom","values":[-20,-10,0,10,20,30,40,50,60],"ticks":false,"labelPadding":10,"labelExpr":"replace(datum.label,'\u2212','-')"}},
     "y":{"field":"v","type":"quantitative","stack":null,"scale":{"domain":[0,100],"nice":false},"axis":{"title":null,"labels":false,"tickSize":-4,"values":[4.17,8.33,12.5,16.67,20.83,25,29.17,33.33,37.5,41.67,45.83,50,54.17,58.33,62.5,66.67,70.83,75,79.17,83.33,87.5,91.67,95.83]}}}},
   {"transform":[{"filter":"datum.p==1&&datum.s=='r'"}],"mark":{"type":"area","interpolate":"step-after","color":"#FF0000","clip":true},
    "encoding":{"x":{"field":"x","type":"quantitative","scale":{"domain":[-26,66],"nice":false,"zero":false},"axis":{"title":null,"orient":"bottom","values":[-20,-10,0,10,20,30,40,50,60],"labels":false,"domain":false,"tickSize":-9}},
     "y":{"field":"v","type":"quantitative","stack":null,"scale":{"domain":[0,100],"nice":false},"axis":null}}},
   {"transform":[{"filter":"datum.p==1&&datum.s=='u'"}],"mark":{"type":"area","interpolate":"step-after","color":"#0000FF","clip":true},
    "encoding":{"x":{"field":"x","type":"quantitative","scale":{"domain":[-26,66],"nice":false,"zero":false},"axis":{"title":null,"orient":"bottom","values":[-24,-22,-18,-16,-14,-12,-8,-6,-4,-2,2,4,6,8,12,14,16,18,22,24,26,28,32,34,36,38,42,44,46,48,52,54,56,58,62,64],"labels":false,"domain":false,"tickSize":-5}},
     "y":{"field":"v","type":"quantitative","stack":null,"scale":{"domain":[0,100],"nice":false},"axis":null}}}
  ]},
 {"spacing":16,"hconcat":[
 {"width":532,"height":640,"data":{"name":"h"},"resolve":{"axis":{"x":"independent"}},
  "layer":[
   {"transform":[{"filter":"datum.p==2&&datum.s=='b'"}],"mark":{"type":"area","interpolate":"step-after","color":"#000000","clip":true},
    "encoding":{"x":{"field":"x","type":"quantitative","scale":{"domain":[-7,35],"nice":false,"zero":false},"axis":{"title":null,"orient":"bottom","values":[-5,0,5,10,15,20,25,30,35],"ticks":false,"labelPadding":10,"labelExpr":"replace(datum.label,'\u2212','-')"}},
     "y":{"field":"v","type":"quantitative","stack":null,"scale":{"domain":[0,100],"nice":false},"axis":{"title":null,"labels":false,"tickSize":-4,"values":[3.33,6.67,10,13.33,16.67,20,23.33,26.67,30,33.33,36.67,40,43.33,46.67,50,53.33,56.67,60,63.33,66.67,70,73.33,76.67,80,83.33,86.67,90,93.33,96.67]}}}},
   {"transform":[{"filter":"datum.p==2&&datum.s=='r'"}],"mark":{"type":"area","interpolate":"step-after","color":"#FF0000","clip":true},
    "encoding":{"x":{"field":"x","type":"quantitative","scale":{"domain":[-7,35],"nice":false,"zero":false},"axis":{"title":null,"orient":"bottom","values":[-5,0,5,10,15,20,25,30,35],"labels":false,"domain":false,"tickSize":-9}},
     "y":{"field":"v","type":"quantitative","stack":null,"scale":{"domain":[0,100],"nice":false},"axis":null}}},
   {"transform":[{"filter":"datum.p==2&&datum.s=='u'"}],"mark":{"type":"area","interpolate":"step-after","color":"#0000FF","clip":true},
    "encoding":{"x":{"field":"x","type":"quantitative","scale":{"domain":[-7,35],"nice":false,"zero":false},"axis":{"title":null,"orient":"bottom","values":[-6,-4,-3,-2,-1,1,2,3,4,6,7,8,9,11,12,13,14,16,17,18,19,21,22,23,24,26,27,28,29,31,32,33,34],"labels":false,"domain":false,"tickSize":-5}},
     "y":{"field":"v","type":"quantitative","stack":null,"scale":{"domain":[0,100],"nice":false},"axis":null}}}
  ]},
 {"width":541,"height":640,"data":{"name":"h"},"resolve":{"axis":{"x":"independent"}},
  "layer":[
   {"transform":[{"filter":"datum.p==3&&datum.s=='b'"}],"mark":{"type":"area","interpolate":"step-after","color":"#000000","clip":true},
    "encoding":{"x":{"field":"x","type":"quantitative","scale":{"domain":[-25,279.3],"nice":false,"zero":false},"axis":{"title":null,"orient":"bottom","values":[-25,0,25,50,75,100,125,150,175,200,225,250,275],"ticks":false,"labelPadding":10,"labelExpr":"replace(datum.label,'\u2212','-')"}},
     "y":{"field":"v","type":"quantitative","stack":null,"scale":{"domain":[0,100],"nice":false},"axis":{"title":null,"labels":false,"tickSize":-4,"values":[2.5,5,7.5,10,12.5,15,17.5,20,22.5,25,27.5,30,32.5,35,37.5,40,42.5,45,47.5,50,52.5,55,57.5,60,62.5,65,67.5,70,72.5,75,77.5,80,82.5,85,87.5,90,92.5,95,97.5]}}}},
   {"transform":[{"filter":"datum.p==3&&datum.s=='r'"}],"mark":{"type":"area","interpolate":"step-after","color":"#FF0000","clip":true},
    "encoding":{"x":{"field":"x","type":"quantitative","scale":{"domain":[-25,279.3],"nice":false,"zero":false},"axis":{"title":null,"orient":"bottom","values":[-25,0,25,50,75,100,125,150,175,200,225,250,275],"labels":false,"domain":false,"tickSize":-9}},
     "y":{"field":"v","type":"quantitative","stack":null,"scale":{"domain":[0,100],"nice":false},"axis":null}}},
   {"transform":[{"filter":"datum.p==3&&datum.s=='u'"}],"mark":{"type":"area","interpolate":"step-after","color":"#0000FF","clip":true},
    "encoding":{"x":{"field":"x","type":"quantitative","scale":{"domain":[-25,279.3],"nice":false,"zero":false},"axis":{"title":null,"orient":"bottom","values":[-20,-15,-10,-5,5,10,15,20,30,35,40,45,55,60,65,70,80,85,90,95,105,110,115,120,130,135,140,145,155,160,165,170,180,185,190,195,205,210,215,220,230,235,240,245,255,260,265,270],"labels":false,"domain":false,"tickSize":-5}},
     "y":{"field":"v","type":"quantitative","stack":null,"scale":{"domain":[0,100],"nice":false},"axis":null}}}
  ]}
 ]}
 ]}
 ]}
]
}
